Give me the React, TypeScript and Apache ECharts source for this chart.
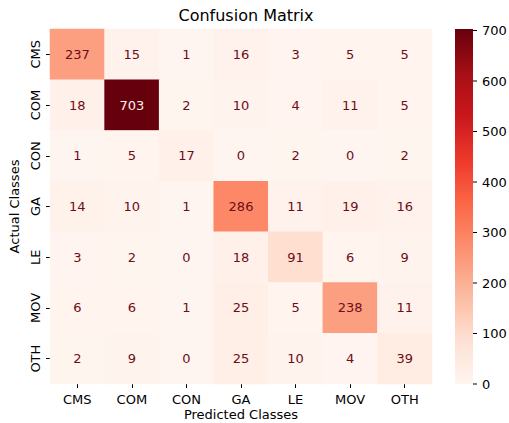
import React, { useEffect, useRef } from "react";
import * as echarts from "echarts";

const classes = ["CMS", "COM", "CON", "GA", "LE", "MOV", "OTH"];
const rowCMS = [237, 15, 1, 16, 3, 5, 5];
const rowCOM = [18, 703, 2, 10, 4, 11, 5];
const rowCON = [1, 5, 17, 0, 2, 0, 2];
const rowGA = [14, 10, 1, 286, 11, 19, 16];
const rowLE = [3, 2, 0, 18, 91, 6, 9];
const rowMOV = [6, 6, 1, 25, 5, 238, 11];
const rowOTH = [2, 9, 0, 25, 10, 4, 39];
const matrix = [rowCMS, rowCOM, rowCON, rowGA, rowLE, rowMOV, rowOTH];
const colorbarTicks = [0, 100, 200, 300, 400, 500, 600, 700];
const vmin = 0;
const vmax = 703;

const reds = ["#fff5f0", "#fee0d2", "#fcbba1", "#fc9272", "#fb6a4a", "#ef3b2c", "#cb181d", "#a50f15", "#67000d"];
const FONT = "DejaVu Sans";

export default function App() {
  const ref = useRef<HTMLDivElement>(null);
  useEffect(() => {
    if (!ref.current) return;
    const chart = echarts.init(ref.current, undefined, { renderer: "svg" });
    const data: any[] = [];
    matrix.forEach((row, r) => {
      row.forEach((v, c) => {
        data.push({
          value: [c, r, v],
          label: { color: v / vmax > 0.6 ? "#fff0ec" : "#6e0d18" },
        });
      });
    });
    chart.setOption({
      animation: false,
      backgroundColor: "#ffffff",
      textStyle: { fontFamily: FONT },
      title: {
        text: "Confusion Matrix",
        left: 241,
        top: 2,
        textAlign: "center",
        textStyle: { fontFamily: FONT, fontSize: 16, fontWeight: "normal", color: "#000" },
      },
      grid: [
        { left: 50, top: 29, width: 382, height: 355, outerBoundsMode: "none", containLabel: false },
        { left: 455, top: 29, width: 18, height: 355, outerBoundsMode: "none", containLabel: false },
      ],
      xAxis: [
        {
          type: "category",
          gridIndex: 0,
          data: classes,
          name: "Predicted Classes",
          nameLocation: "middle",
          nameGap: 24,
          nameMoveOverlap: false,
          nameTextStyle: { fontFamily: FONT, fontSize: 13, color: "#000" },
          axisLine: { show: false },
          axisTick: { show: true, alignWithLabel: true, length: 4, lineStyle: { color: "#000" } },
          axisLabel: { fontFamily: FONT, fontSize: 13, color: "#000", margin: 9 },
          splitLine: { show: false },
        },
        { type: "value", gridIndex: 1, show: false, min: 1, max: 2 },
      ],
      yAxis: [
        {
          type: "category",
          gridIndex: 0,
          data: classes,
          inverse: true,
          name: "Actual Classes",
          nameLocation: "middle",
          nameRotate: 90,
          nameGap: 27,
          nameTextStyle: { fontFamily: FONT, fontSize: 13, color: "#000" },
          axisLine: { show: false },
          axisTick: { show: true, alignWithLabel: true, length: 4, lineStyle: { color: "#000" } },
          axisLabel: { fontFamily: FONT, fontSize: 13, color: "#000", rotate: 90, margin: 15, verticalAlign: "middle", align: "center" },
          splitLine: { show: false },
        },
        {
          type: "value",
          gridIndex: 1,
          position: "right",
          min: 0,
          max: vmax,
          show: false,
        },
      ],
      visualMap: {
        type: "continuous",
        show: false,
        min: vmin,
        max: vmax,
        seriesIndex: 0,
        inRange: { color: reds },
      },
      series: [
        {
          type: "heatmap",
          xAxisIndex: 0,
          yAxisIndex: 0,
          data,
          label: {
            show: true,
            fontFamily: FONT,
            fontSize: 13,
            formatter: (p: any) => String(p.value[2]),
          },
          itemStyle: { borderWidth: 0 },
          emphasis: { disabled: true },
        },
      ],
    });

    // colorbar drawn from the colorbar axis scale
    const xLeft = chart.convertToPixel({ xAxisIndex: 1 } as any, 1) as number;
    const xRight = chart.convertToPixel({ xAxisIndex: 1 } as any, 2) as number;
    const yTop = chart.convertToPixel({ yAxisIndex: 1 } as any, vmax) as number;
    const yBottom = chart.convertToPixel({ yAxisIndex: 1 } as any, vmin) as number;
    const stops = reds.map((c, i) => ({ offset: i / (reds.length - 1), color: c }));
    const elements: any[] = [
      {
        type: "rect",
        shape: { x: xLeft, y: yTop, width: xRight - xLeft, height: yBottom - yTop },
        style: { fill: new echarts.graphic.LinearGradient(0, 1, 0, 0, stops) },
        silent: true,
        z: 10,
      },
    ];
    colorbarTicks.forEach((t) => {
      const y = chart.convertToPixel({ yAxisIndex: 1 } as any, t) as number;
      elements.push({
        type: "line",
        shape: { x1: xRight, y1: y, x2: xRight + 4, y2: y },
        style: { stroke: "#000", lineWidth: 1 },
        silent: true,
        z: 20,
      });
      elements.push({
        type: "text",
        x: xRight + 9,
        y,
        style: {
          text: String(t),
          fontFamily: FONT,
          fontSize: 13,
          fill: "#000",
          align: "left",
          verticalAlign: "middle",
        },
        silent: true,
        z: 20,
      });
    });
    chart.setOption({ graphic: { elements } });

    return () => chart.dispose();
  }, []);
  return <div ref={ref} style={{ position: "absolute", left: 0, top: 0, width: 509, height: 423 }} />;
}
